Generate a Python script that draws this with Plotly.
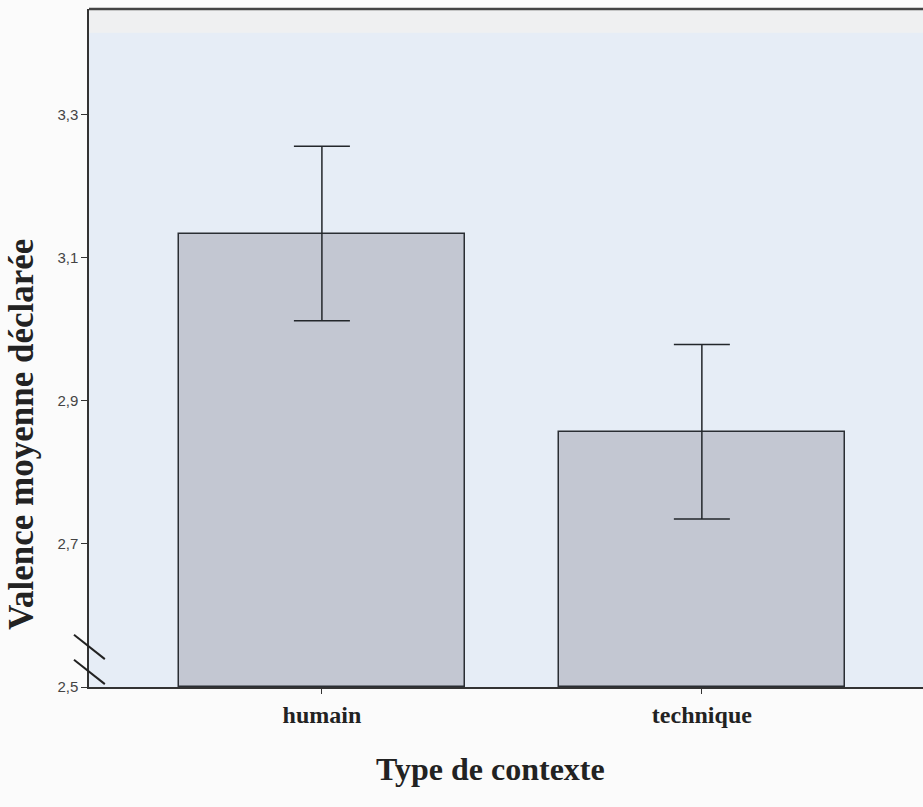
import plotly.graph_objects as go

categories = ["humain", "technique"]
means = [3.134, 2.857]
errors = [0.122, 0.122]
y_ticks = [2.5, 2.7, 2.9, 3.1, 3.3]
y_tick_labels = ["2,5", "2,7", "2,9", "3,1", "3,3"]

Y_MIN, Y_MAX = 2.5, 3.448

fig = go.Figure()
fig.add_trace(go.Bar(
    x=[0, 1], y=[m - Y_MIN for m in means], base=Y_MIN,
    width=0.753,
    marker=dict(color="#c3c7d2", line=dict(color="#2a2e33", width=1.5)),
    error_y=dict(type="data", array=errors, visible=True,
                 color="#23272b", thickness=1.5, width=28),
    showlegend=False, hoverinfo="skip",
))

# break marks on y axis
for y_hi, y_lo in [(2.573, 2.539), (2.538, 2.504)]:
    fig.add_shape(type="line", xref="paper", yref="y",
                  x0=-0.018, x1=0.019, y0=y_hi, y1=y_lo,
                  line=dict(color="#222", width=2))

# light top band
fig.add_shape(type="rect", xref="paper", yref="paper", x0=0, x1=1,
              y0=0.965, y1=1, fillcolor="#eff0f1", line=dict(width=0), layer="below")

fig.update_layout(
    width=923, height=807,
    margin=dict(l=89, r=0, t=9, b=120),
    paper_bgcolor="#fbfbfb", plot_bgcolor="#e6edf6",
    separators=",.",
    bargap=0,
    xaxis=dict(
        range=[-0.613, 1.582], tickmode="array", tickvals=[0, 1],
        ticktext=["<b>%s</b>" % c for c in categories],
        showline=True, linecolor="#333", linewidth=1.5, mirror=False,
        ticks="outside", ticklen=5, tickcolor="#333", showgrid=False, zeroline=False,
        tickfont=dict(family="Liberation Serif", size=24, color="#222"),
    ),
    yaxis=dict(
        range=[Y_MIN, Y_MAX], tickmode="array", tickvals=y_ticks, ticktext=y_tick_labels,
        showline=True, linecolor="#333", linewidth=1.5,
        ticks="outside", ticklen=6, tickcolor="#333", showgrid=False, zeroline=False,
        tickfont=dict(family="Liberation Sans", size=15, color="#444"),
    ),
    annotations=[
        dict(text="<b>Type de contexte</b>", xref="paper", yref="paper",
             x=0.481, y=-0.121, xanchor="center", yanchor="middle", showarrow=False,
             font=dict(family="Liberation Serif", size=32, color="#222")),
        dict(text="<b>Valence moyenne déclarée</b>", xref="paper", yref="paper",
             x=-0.080, y=0.372, xanchor="center", yanchor="middle", showarrow=False,
             textangle=-90,
             font=dict(family="Liberation Serif", size=35, color="#222")),
    ],
)
# top border
fig.add_shape(type="line", xref="paper", yref="paper", x0=0, x1=1, y0=1, y1=1,
              line=dict(color="#444", width=2.5))

fig.write_html("out.html", config={"displayModeBar": False},
               post_script="document.body.style.margin='0';document.body.style.overflow='hidden';")
